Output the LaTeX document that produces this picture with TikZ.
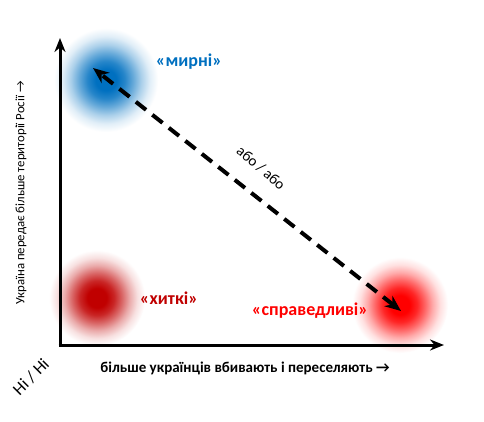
\documentclass[tikz,border=0pt]{standalone}
\usepackage{fontspec}
\setmainfont{Carlito}
\usetikzlibrary{arrows.meta}
\definecolor{myblue}{RGB}{0,112,192}
\definecolor{mydred}{RGB}{192,0,0}
\definecolor{myred}{RGB}{255,0,0}
\pgfdeclareradialshading{blueblob}{\pgfpoint{0bp}{0bp}}{color(0bp)=(myblue); color(5bp)=(myblue); color(9bp)=(myblue!85!white); color(13bp)=(myblue!60!white); color(17bp)=(myblue!33!white); color(21bp)=(myblue!12!white); color(25bp)=(white); color(50bp)=(white)}
\pgfdeclareradialshading{dredblob}{\pgfpoint{0bp}{0bp}}{color(0bp)=(mydred); color(5bp)=(mydred); color(9bp)=(mydred!85!white); color(13bp)=(mydred!60!white); color(17bp)=(mydred!33!white); color(21bp)=(mydred!12!white); color(25bp)=(white); color(50bp)=(white)}
\pgfdeclareradialshading{redblob}{\pgfpoint{0bp}{0bp}}{color(0bp)=(myred); color(5bp)=(myred); color(9bp)=(myred!85!white); color(13bp)=(myred!60!white); color(17bp)=(myred!33!white); color(21bp)=(myred!12!white); color(25bp)=(white); color(50bp)=(white)}
\begin{document}
\begin{tikzpicture}[x=1pt,y=-1pt,
  axisline/.style={line width=3pt,-{Stealth[length=14pt,width=11pt]}},
  dasharrow/.style={line width=4pt,dash pattern=on 13pt off 8pt,{Stealth[length=16pt,width=13pt]}-{Stealth[length=16pt,width=13pt]}},
  axlabel/.style={font=\fontsize{15}{17}\selectfont},
  grouplabel/.style={font=\bfseries\fontsize{18}{20}\selectfont}]
\useasboundingbox (0,0) rectangle (484,422);
\fill[white] (0,0) rectangle (484,422);
% blobs
\shade[shading=blueblob] (106,80) circle[radius=52];
\shade[shading=dredblob] (97,298) circle[radius=48];
\shade[shading=redblob] (400,305) circle[radius=48];
% axes
\coordinate (origin) at (60,345);
\coordinate (ytop) at (60,38);
\coordinate (xend) at (444,345);
\draw[axisline] (origin) -- (ytop);
\draw[axisline] (origin) -- (xend);
\draw[line width=3pt] (58.5,345) -- (61.5,345);
% blob anchors
\coordinate (peace) at (93,68);
\coordinate (fair) at (401,311);
\draw[dasharrow] (fair) -- (peace);
% labels
\node[axlabel,rotate=-41] (ors) at (261,168) {або / або};
\node[grouplabel,text=myblue] (mirni) at (189,62) {«мирні»};
\node[grouplabel,text=mydred] (hytki) at (169,298) {«хиткі»};
\node[grouplabel,text=myred] (sprav) at (310,311) {«справедливі»};
\node[font=\fontsize{12.8}{15}\selectfont,rotate=90] (ylab) at (21,193) {Україна передає більше території Росії →};
\node[axlabel] (xlab) at (245,368) {\bfseries більше українців вбивають і переселяють →};
\node[font=\fontsize{17}{19}\selectfont,rotate=45] (nini) at (31,377) {Ні / Ні};
\end{tikzpicture}
\end{document}
